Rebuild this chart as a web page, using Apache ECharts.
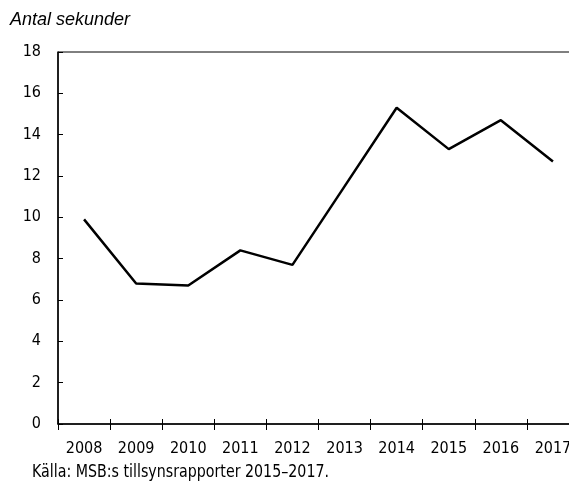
<!DOCTYPE html>
<html>
<head>
<meta charset="utf-8">
<script src="https://cdn.jsdelivr.net/npm/echarts@6/dist/echarts.min.js"></script>
<style>
html,body{margin:0;padding:0;background:#fff;}
#chart{width:569px;height:481px;}
</style>
</head>
<body>
<div id="chart"></div>
<script>
var years = ['2008','2009','2010','2011','2012','2013','2014','2015','2016','2017'];
var seconds = [9.9, 6.8, 6.7, 8.4, 7.7, 11.5, 15.3, 13.3, 14.7, 12.7];
var yTicks = {min: 0, max: 18, interval: 2};
var titleText = 'Antal sekunder';
var sourceText = 'Källa: MSB:s tillsynsrapporter 2015–2017.';

var narrow = '"Liberation Sans Narrow", "DejaVu Sans Condensed", "Arial Narrow", sans-serif';
var chart = echarts.init(document.getElementById('chart'), null, {renderer: 'canvas'});
chart.setOption({
  animation: false,
  backgroundColor: '#fff',
  title: [
    {text: titleText, left: 10, top: 11, textStyle: {fontFamily: 'Liberation Sans, Arial, sans-serif', fontStyle: 'italic', fontWeight: 'normal', fontSize: 18, color: '#000'}, padding: 0}
  ],
  graphic: [
    {type: 'text', left: 32, top: 464, scaleX: 0.93, scaleY: 1,
     style: {text: sourceText, fontFamily: narrow, fontSize: 17, fill: '#000'}}
  ],
  grid: {left: 58, top: 52, right: -10, bottom: 57, outerBoundsMode: 'none', containLabel: false,
    show: true, borderColor: '#000', borderWidth: 1, backgroundColor: 'transparent'},
  xAxis: [
    {type: 'category', data: years, boundaryGap: true,
     axisLine: {lineStyle: {color: '#000', width: 1.5}},
     axisTick: {show: true, length: 6, inside: false, lineStyle: {color: '#000', width: 1}},
     axisLabel: {color: '#000', fontFamily: narrow, fontSize: 16, margin: 17},
     splitLine: {show: false}},
    {type: 'category', data: years, boundaryGap: true, position: 'bottom',
     axisLine: {show: false},
     axisTick: {show: true, length: 5, inside: true, lineStyle: {color: '#000', width: 1}},
     axisLabel: {show: false}, splitLine: {show: false}}
  ],
  yAxis: {type: 'value', min: yTicks.min, max: yTicks.max, interval: yTicks.interval,
    axisLine: {show: true, lineStyle: {color: '#000', width: 1.5}},
    axisTick: {show: true, inside: true, length: 5, lineStyle: {color: '#000', width: 1}},
    axisLabel: {color: '#000', fontFamily: narrow, fontSize: 16, margin: 17},
    splitLine: {show: false}},
  series: [{
    type: 'line', data: seconds, xAxisIndex: 0, showSymbol: false, symbol: 'none',
    lineStyle: {color: '#000', width: 2.5}, z: 5
  }]
});
</script>
</body>
</html>
